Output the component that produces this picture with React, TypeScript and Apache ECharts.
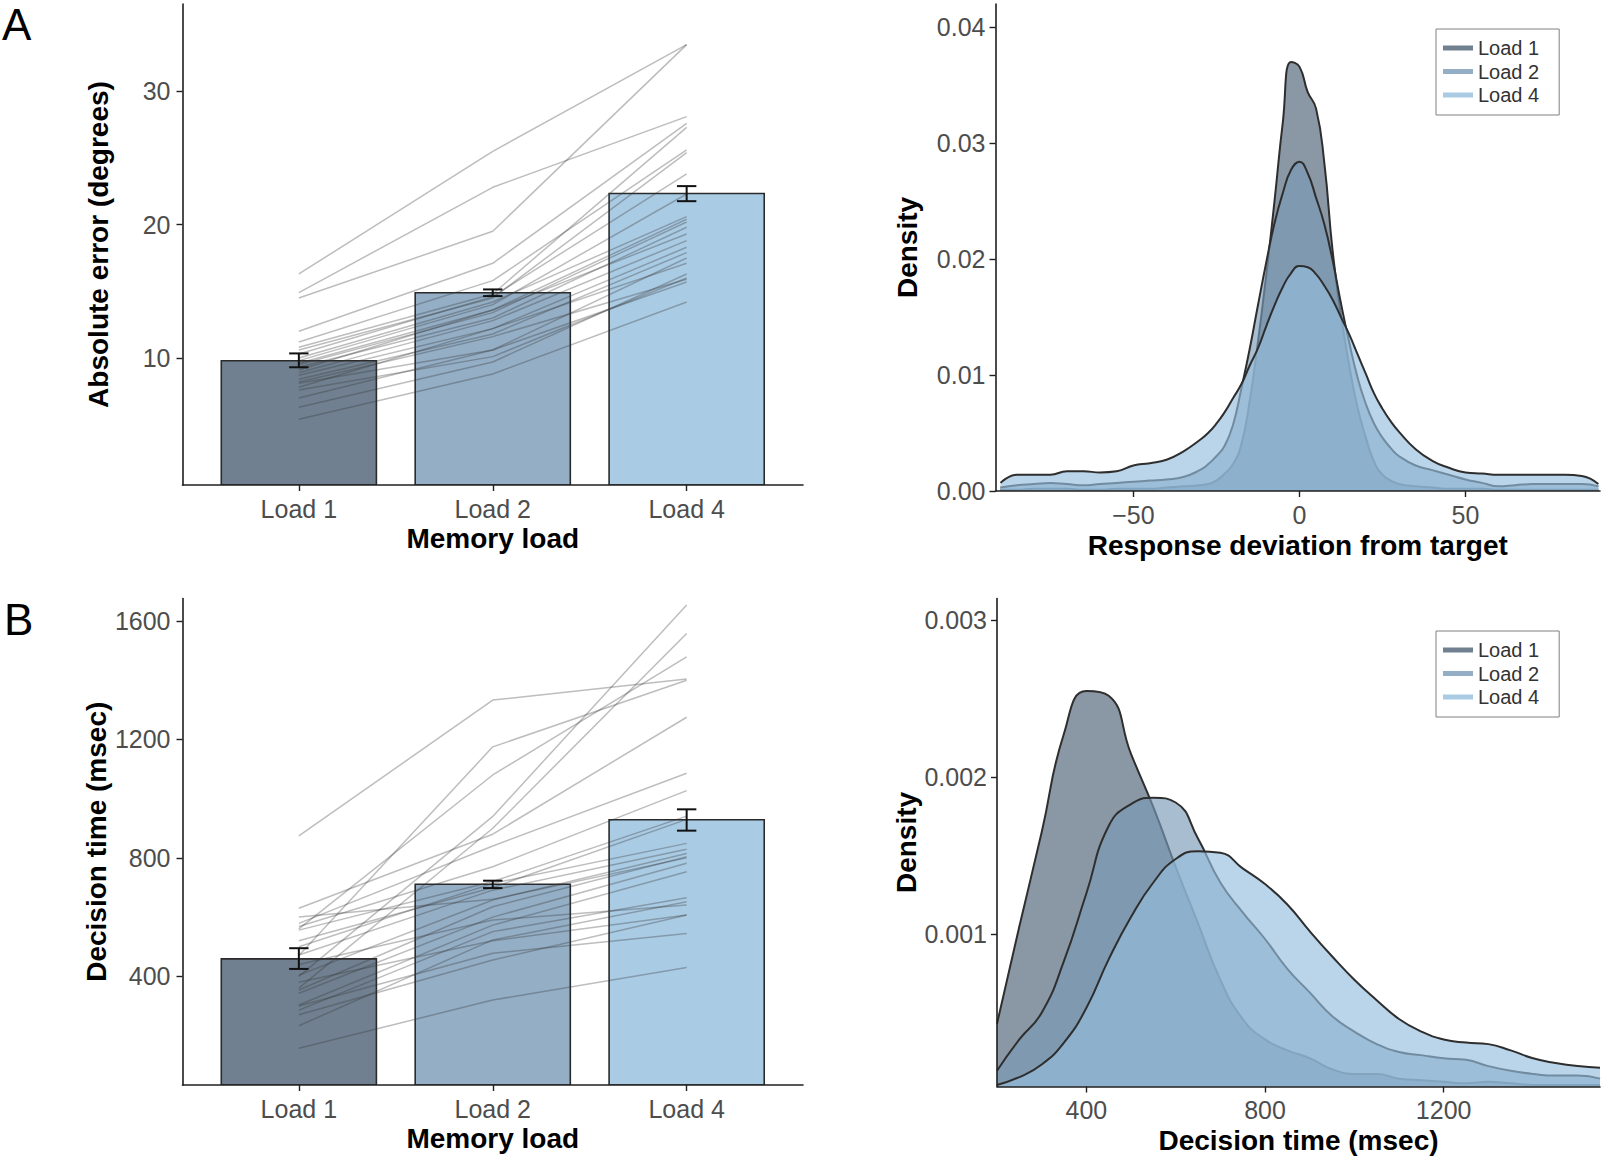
import React, { useEffect, useRef } from "react";
import * as echarts from "echarts";

// ---------- data ----------
const categories = ["Load 1", "Load 2", "Load 4"];
const baseColors = ["#4c6074", "#799ab6", "#95bedd"];

// Panel A (left): absolute error (degrees)
const errMeans = [9.79, 14.89, 22.34];
const errLow = [9.3, 14.64, 21.76];
const errHigh = [10.34, 15.14, 22.89];
const errLoad1 = [16.3, 14.9, 14.5, 12.0, 11.2, 10.8, 10.6, 10.3, 10.0, 9.8, 9.5, 9.3, 9.1, 8.9, 8.7, 8.4, 8.1, 7.8, 7.6, 7.0, 6.3, 5.4, 9.6, 8.2];
const errLoad2 = [25.5, 22.8, 19.5, 17.1, 15.8, 14.8, 14.5, 14.6, 14.2, 14.0, 13.4, 13.0, 13.6, 12.8, 12.2, 11.8, 10.6, 12.2, 10.1, 10.6, 9.7, 8.8, 13.6, 11.6];
const errLoad4 = [33.5, 28.1, 33.5, 27.6, 25.6, 27.3, 25.4, 23.8, 20.6, 22.3, 20.2, 19.8, 19.3, 18.8, 18.3, 17.9, 17.5, 17.1, 16.0, 15.7, 16.3, 14.2, 20.4, 15.9];
const errTicks = [10, 20, 30];

// Panel B (left): decision time (msec)
const timeMeans = [459, 711, 929];
const timeLow = [425, 698, 892];
const timeHigh = [495, 723, 964];
const timeLoad1 = [874, 470, 400, 360, 560, 630, 579, 568, 556, 500, 472, 404, 354, 343, 303, 286, 233, 157, 440, 380, 300, 270, 520, 600];
const timeLoad2 = [1333, 1175, 940, 900, 1080, 880, 840, 770, 720, 714, 691, 658, 635, 600, 573, 551, 523, 320, 590, 520, 478, 455, 700, 660];
const timeLoad4 = [1404, 1400, 1654, 1558, 1479, 1275, 1086, 1027, 941, 849, 829, 815, 804, 782, 753, 665, 652, 430, 641, 607, 545, 607, 930, 800];
const timeTicks = [400, 800, 1200, 1600];

// Panel A (right): density of response deviation
const devX = [
  -90, -85, -80, -75, -70, -65, -60, -55, -50, -45, -40, -35, -30,
  -27.5, -25, -22.5, -20, -17.5, -15, -12.5, -10, -7.5, -5, -2.5, 0, 2.5, 5, 7.5, 10, 12.5, 15, 17.5, 20, 22.5, 25, 27.5,
  30, 35, 40, 45, 50, 55, 60, 65, 70, 75, 80, 85, 90,
];
const devLoad1 = [
  0.0001, 0.0001, 0.0002, 0.0002, 0.0002, 0.0001, 0.0001, 0.0002, 0.0002, 0.0002, 0.0003, 0.0004, 0.0005,
  0.0006, 0.0009, 0.0015, 0.0023, 0.004, 0.0077, 0.0128, 0.0186, 0.025, 0.0318, 0.037, 0.0366, 0.0344, 0.033, 0.0283, 0.0207, 0.0152, 0.0108, 0.0072, 0.0046, 0.0025, 0.0014, 0.0009,
  0.0006, 0.0004, 0.0003, 0.0002, 0.0002, 0.0002, 0.0001, 0.0001, 0.0001, 0.0001, 0.0001, 0.0001, 0.0001,
];
const devLoad2 = [
  0.0003, 0.0005, 0.0006, 0.0007, 0.0006, 0.0005, 0.0006, 0.0007, 0.0008, 0.0009, 0.001, 0.0012, 0.0018,
  0.0023, 0.003, 0.0039, 0.0057, 0.0088, 0.0122, 0.016, 0.0197, 0.0231, 0.0257, 0.0277, 0.0284, 0.0274, 0.0253, 0.023, 0.0199, 0.0162, 0.0128, 0.0098, 0.0075, 0.0058, 0.0046, 0.0037,
  0.003, 0.0022, 0.0018, 0.0014, 0.001, 0.0007, 0.0004, 0.0005, 0.0006, 0.0006, 0.0006, 0.0006, 0.0004,
];
const devLoad4 = [
  0.0007, 0.0014, 0.0014, 0.0014, 0.0017, 0.0017, 0.0016, 0.0017, 0.0022, 0.0024, 0.0027, 0.0034, 0.0044,
  0.005, 0.0058, 0.0068, 0.008, 0.0092, 0.0108, 0.0123, 0.0142, 0.016, 0.0176, 0.0188, 0.0194, 0.0193, 0.0187, 0.0177, 0.0165, 0.015, 0.0135, 0.0118, 0.0101, 0.0084, 0.0071, 0.006,
  0.0051, 0.0036, 0.0026, 0.002, 0.0016, 0.0015, 0.0014, 0.0014, 0.0014, 0.0014, 0.0014, 0.0013, 0.0006,
];
const devXTicks = [-50, 0, 50];
const devYTicks = [0, 0.01, 0.02, 0.03, 0.04];

// Panel B (right): density of decision time
const rtX = [200, 250, 300, 350, 400, 450, 500, 550, 600, 650, 700, 750, 800, 850, 900, 950, 1000, 1050, 1100, 1150, 1200, 1250, 1300, 1350, 1400, 1450, 1500, 1550];
const rtLoad1 = [0.00043, 0.00105, 0.00165, 0.00228, 0.00255, 0.00252, 0.00215, 0.00181, 0.00143, 0.00107, 0.00071, 0.00046, 0.00033, 0.00026, 0.00021, 0.00014, 0.00011, 0.00011, 0.00008, 0.00007, 0.00006, 0.00005, 0.00006, 0.00005, 0.00004, 0.00004, 0.00004, 0.00004];
const rtLoad2 = [0.00013, 0.00033, 0.0005, 0.00083, 0.00126, 0.00169, 0.00183, 0.00187, 0.00184, 0.00161, 0.00133, 0.00114, 0.00097, 0.00078, 0.00063, 0.00048, 0.00038, 0.0003, 0.00025, 0.00023, 0.00021, 0.0002, 0.00016, 0.00013, 0.00011, 0.0001, 0.0001, 0.00008];
const rtLoad4 = [0.00004, 0.00009, 0.00017, 0.00031, 0.00053, 0.00084, 0.00111, 0.00133, 0.00148, 0.00153, 0.00152, 0.00142, 0.00132, 0.00119, 0.00102, 0.00086, 0.00071, 0.00058, 0.00046, 0.00038, 0.00033, 0.00031, 0.0003, 0.00026, 0.00021, 0.00018, 0.00016, 0.00015];
const rtXTicks = [400, 800, 1200];
const rtYTicks = [0.001, 0.002, 0.003];

// ---------- styles ----------
const FONT = "Liberation Sans";
const TICK_COLOR = "#4d4d4d";
const AXIS_COLOR = "#1f1f1f";
const BAR_ALPHA = 0.8;
const DENSITY_ALPHA = 0.65;
const TITLE_STYLE = { fontFamily: FONT, fontWeight: "bold" as const, fontSize: 28, color: "#000" };

function rgba(hex: string, a: number) {
  const n = parseInt(hex.slice(1), 16);
  return `rgba(${(n >> 16) & 255},${(n >> 8) & 255},${n & 255},${a})`;
}

function axisBase(gridIndex: number) {
  return {
    gridIndex,
    type: "value" as const,
    z: 8,
    axisLine: { show: true, onZero: false, lineStyle: { color: AXIS_COLOR, width: 1.6 } },
    splitLine: { show: false },
    nameLocation: "middle" as const,
    nameTextStyle: TITLE_STYLE,
  };
}

function xAxisDef(gridIndex: number, min: number, max: number, ticks: number[], fmt: (v: number) => string, name: string, nameGap: number) {
  return {
    ...axisBase(gridIndex),
    min,
    max,
    name,
    nameGap,
    axisTick: { show: true, customValues: ticks, length: 6, lineStyle: { color: AXIS_COLOR, width: 1.4 } },
    axisLabel: { customValues: ticks, formatter: fmt, margin: 11, color: TICK_COLOR, fontSize: 25, fontFamily: FONT },
  };
}

function yAxisDef(gridIndex: number, min: number, max: number, ticks: number[], fmt: (v: number) => string, name: string, nameGap: number, margin: number) {
  return {
    ...axisBase(gridIndex),
    min,
    max,
    name,
    nameGap,
    nameRotate: 90,
    axisTick: { show: true, customValues: ticks, length: 6, lineStyle: { color: AXIS_COLOR, width: 1.4 } },
    axisLabel: { customValues: ticks, formatter: fmt, margin, color: TICK_COLOR, fontSize: 25, fontFamily: FONT },
  };
}

function barSeries(axisIndex: number, means: number[]) {
  return {
    type: "custom",
    xAxisIndex: axisIndex,
    yAxisIndex: axisIndex,
    z: 1,
    silent: true,
    clip: true,
    data: means.map((m, i) => [i + 1, m]),
    renderItem: (params: any, api: any) => {
      const x = api.value(0);
      const m = api.value(1);
      const tl = api.coord([x - 0.4, m]);
      const tr = api.coord([x + 0.4, m]);
      const cs = params.coordSys;
      const bottom = cs.y + cs.height;
      return {
        type: "rect",
        shape: { x: tl[0], y: tl[1], width: tr[0] - tl[0], height: bottom - tl[1] },
        style: { fill: rgba(baseColors[params.dataIndex], BAR_ALPHA), stroke: "#2b2b2b", lineWidth: 1.6 },
      };
    },
  };
}

function errorSeries(axisIndex: number, low: number[], high: number[]) {
  return {
    type: "custom",
    xAxisIndex: axisIndex,
    yAxisIndex: axisIndex,
    z: 5,
    silent: true,
    data: low.map((l, i) => [i + 1, l, high[i]]),
    renderItem: (params: any, api: any) => {
      const x = api.value(0);
      const lo = api.coord([x, api.value(1)]);
      const hi = api.coord([x, api.value(2)]);
      const w = api.coord([x + 0.05, api.value(1)])[0] - lo[0];
      const style = { stroke: "#111", lineWidth: 2 };
      return {
        type: "group",
        children: [
          { type: "line", shape: { x1: lo[0], y1: lo[1], x2: hi[0], y2: hi[1] }, style },
          { type: "line", shape: { x1: lo[0] - w, y1: lo[1], x2: lo[0] + w, y2: lo[1] }, style },
          { type: "line", shape: { x1: hi[0] - w, y1: hi[1], x2: hi[0] + w, y2: hi[1] }, style },
        ],
      };
    },
  };
}

function subjectSeries(axisIndex: number, a: number[], b: number[], c: number[]) {
  return a.map((v, i) => ({
    type: "line",
    xAxisIndex: axisIndex,
    yAxisIndex: axisIndex,
    z: 3,
    silent: true,
    symbol: "none",
    data: [[1, v], [2, b[i]], [3, c[i]]],
    lineStyle: { color: "rgba(55,55,55,0.33)", width: 1.5 },
  }));
}

function densitySeries(axisIndex: number, xs: number[], ys: number[], idx: number) {
  return {
    type: "line",
    name: categories[idx],
    xAxisIndex: axisIndex,
    yAxisIndex: axisIndex,
    z: 2 + idx,
    silent: true,
    symbol: "none",
    smooth: 0.5,
    clip: true,
    data: xs.map((x, i) => [x, ys[i]]),
    itemStyle: { color: baseColors[idx] },
    lineStyle: { color: "#2e2e2e", width: 2 },
    areaStyle: { color: baseColors[idx], opacity: DENSITY_ALPHA, origin: "start" },
  };
}

function legendDef(top: number) {
  return {
    orient: "vertical",
    left: 1436,
    top,
    z: 10,
    selectedMode: false,
    backgroundColor: "#fff",
    borderColor: "#808080",
    borderWidth: 1,
    padding: [9, 20, 10, 7],
    itemWidth: 30,
    itemHeight: 5,
    itemGap: 3.5,
    textStyle: { fontFamily: FONT, fontSize: 20, color: "#333", lineHeight: 20 },
    data: categories.map((c, i) => ({
      name: c,
      icon: "rect",
      itemStyle: { color: rgba(baseColors[i], BAR_ALPHA), opacity: 1, borderWidth: 0 },
    })),
  };
}

const catFmt = (v: number) => categories[Math.round(v) - 1] ?? "";
const minusFmt = (v: number) => (v < 0 ? "\u2212" + Math.abs(v) : String(v));

export default function App() {
  const ref = useRef<HTMLDivElement>(null);
  useEffect(() => {
    if (!ref.current) return;
    const chart = echarts.init(ref.current, null, { renderer: "svg" });
    const option: any = {
      animation: false,
      backgroundColor: "#fff",
      grid: [
        { left: 182.5, top: 4, width: 620.5, height: 481, outerBoundsMode: "none" },
        { left: 182.5, top: 598.5, width: 620.5, height: 486.5, outerBoundsMode: "none" },
        { left: 995.5, top: 4, width: 604.5, height: 487, outerBoundsMode: "none" },
        { left: 997, top: 598.5, width: 603, height: 488, outerBoundsMode: "none" },
      ],
      xAxis: [
        xAxisDef(0, 0.4, 3.6, [1, 2, 3], catFmt, "Memory load", 39),
        xAxisDef(1, 0.4, 3.6, [1, 2, 3], catFmt, "Memory load", 39),
        xAxisDef(2, -91.5, 90.5, devXTicks, minusFmt, "Response deviation from target", 40),
        xAxisDef(3, 200, 1550, rtXTicks, (v) => String(v), "Decision time (msec)", 40),
      ],
      yAxis: [
        yAxisDef(0, 0.47, 36.55, errTicks, (v) => String(v), "Absolute error (degrees)", 70, 12),
        yAxisDef(1, 33, 1676, timeTicks, (v) => String(v), "Decision time (msec)", 70, 12),
        yAxisDef(2, 0, 0.042, devYTicks, (v) => v.toFixed(2), "Density", 74, 10),
        yAxisDef(3, 0.00003, 0.00314, rtYTicks, (v) => v.toFixed(3), "Density", 74, 10),
      ],
      legend: [legendDef(29), legendDef(631)],
      graphic: [
        { type: "text", left: 2, top: 2, style: { text: "A", fontFamily: FONT, fontSize: 44, lineHeight: 44, fill: "#000" } },
        { type: "text", left: 4, top: 597, style: { text: "B", fontFamily: FONT, fontSize: 44, lineHeight: 44, fill: "#000" } },
      ],
      series: [
        barSeries(0, errMeans),
        ...subjectSeries(0, errLoad1, errLoad2, errLoad4),
        errorSeries(0, errLow, errHigh),
        barSeries(1, timeMeans),
        ...subjectSeries(1, timeLoad1, timeLoad2, timeLoad4),
        errorSeries(1, timeLow, timeHigh),
        densitySeries(2, devX, devLoad1, 0),
        densitySeries(2, devX, devLoad2, 1),
        densitySeries(2, devX, devLoad4, 2),
        densitySeries(3, rtX, rtLoad1, 0),
        densitySeries(3, rtX, rtLoad2, 1),
        densitySeries(3, rtX, rtLoad4, 2),
      ],
    };
    chart.setOption(option);
    return () => chart.dispose();
  }, []);
  return (
    <div
      ref={ref}
      style={{ position: "absolute", left: 0, top: 0, width: 1604, height: 1160, background: "#fff" }}
    />
  );
}
